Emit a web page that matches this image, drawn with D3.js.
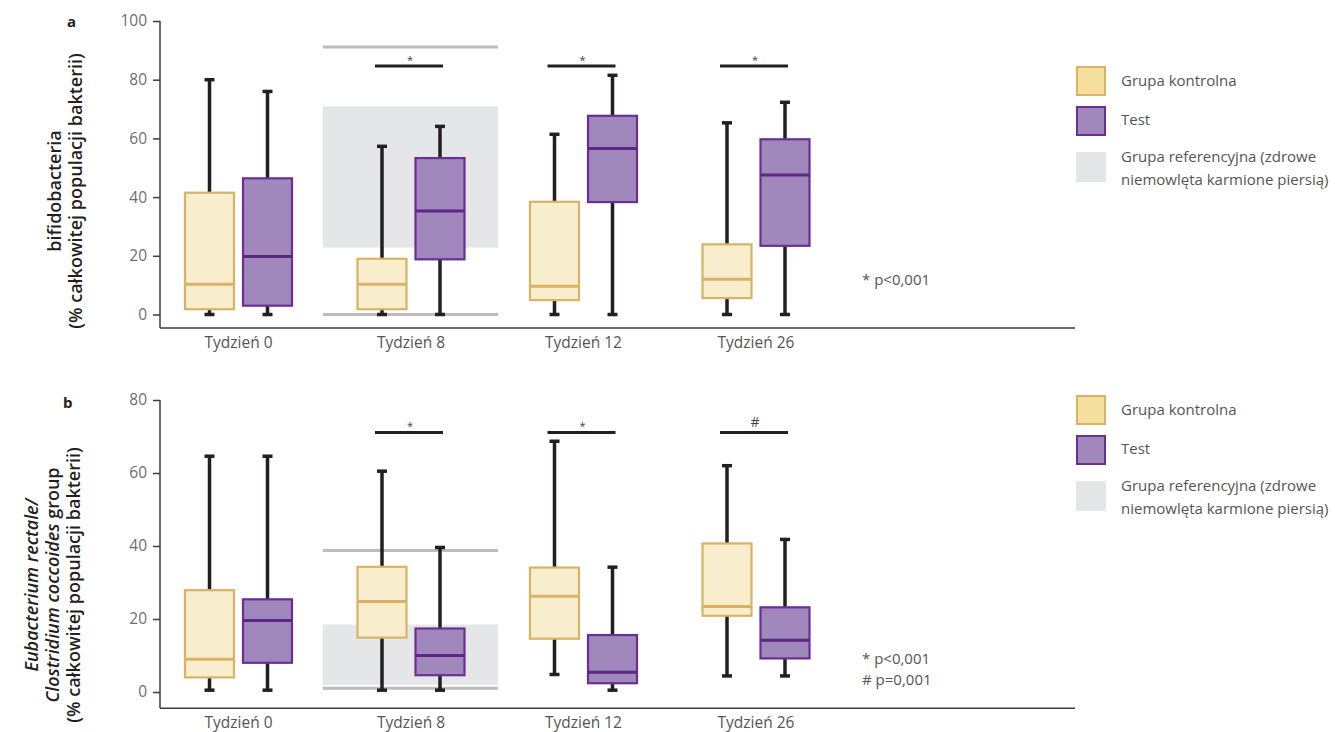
<!DOCTYPE html>
<html><head><meta charset="utf-8">
<script src="https://cdn.jsdelivr.net/npm/d3@7"></script>
<style>body{margin:0;background:#fff}svg{display:block}text{font-family:"Open Sans",sans-serif}</style>
</head><body><svg id="c" width="1335" height="732"></svg>
<script>
const categories = ["Tydzień 0","Tydzień 8","Tydzień 12","Tydzień 26"];
const groups = ["Grupa kontrolna","Test"];
// [min, q1, median, q3, max]
const controlA = [[0,1.8,10.3,41.5,80],[0,1.8,10.3,19.0,57.3],[0,4.9,9.6,38.4,61.4],[0,5.6,12.0,23.9,65.3]];
const testA    = [[0,3.0,19.8,46.4,76],[0,18.8,35.3,53.3,64.1],[0,38.3,56.6,67.7,81.5],[0,23.4,47.5,59.7,72.3]];
const controlB = [[0.5,4.0,9.0,27.9,64.6],[0.5,14.9,24.8,34.3,60.5],[4.8,14.6,26.2,34.1,68.7],[4.4,20.9,23.4,40.7,62.0]];
const testB    = [[0.5,8.0,19.6,25.4,64.6],[0.5,4.6,10.0,17.4,39.6],[0.5,2.4,5.4,15.6,34.2],[4.4,9.2,14.2,23.2,41.8]];
// reference group (Tydzień 8): [iqrLow, iqrHigh, rangeLow, rangeHigh]
const refA = [22.8, 70.9, 0, 91.1];
const refB = [1.9, 18.5, 1.0, 38.8];
const sigCatsA = ["Tydzień 8","Tydzień 12","Tydzień 26"], sigLabelsA = ["*","*","*"], sigValA = 84.7;
const sigCatsB = ["Tydzień 8","Tydzień 12","Tydzień 26"], sigLabelsB = ["*","*","#"], sigValB = 71.1;
const ticksA = [0,20,40,60,80,100], ticksB = [0,20,40,60,80];
const legendLabels = ["Grupa kontrolna","Test","Grupa referencyjna (zdrowe","niemowlęta karmione piersią)"];

const C = {cFill:"#f8edcd", cStroke:"#d9b265", cLeg:"#f5df9f", tFill:"#a087bc", tStroke:"#6b2f94", tMed:"#5d2586",
           ref:"#e5e6e8", refLine:"#bcbcbf", whisk:"#231f20", axis:"#3d3d3f", tick:"#6d6e71"};
const svg = d3.select("#c");
const x = d3.scalePoint().domain(categories).range([238.5, 756]);
const off = 29, bw = 49, cap = 5;

function panel(cfg){
  const y = d3.scaleLinear().domain([0, cfg.ymax]).range([cfg.y0, cfg.ytop]);
  const g = svg.append("g");
  // reference
  const rx0 = x("Tydzień 8") - 88, rx1 = x("Tydzień 8") + 87;
  g.append("rect").attr("x",rx0).attr("width",rx1-rx0).attr("y",y(cfg.ref[1])).attr("height",y(cfg.ref[0])-y(cfg.ref[1])).attr("fill",C.ref);
  [cfg.ref[2], cfg.ref[3]].forEach(v=>g.append("line").attr("x1",rx0).attr("x2",rx1).attr("y1",y(v)).attr("y2",y(v)).attr("stroke",C.refLine).attr("stroke-width",3));
  // axes
  const ya = d3.axisLeft(y).tickValues(cfg.ticks).tickSize(7).tickPadding(6);
  const ag = g.append("g").attr("transform",`translate(160,0)`).call(ya);
  ag.select(".domain").remove();
  ag.selectAll(".tick line").attr("stroke",C.axis).attr("stroke-width",1.5);
  ag.selectAll(".tick text").attr("fill",C.tick).style("font-size","15.5px").style("font-family","'Open Sans',sans-serif");
  g.append("line").attr("x1",160).attr("x2",160).attr("y1",y(cfg.ymax)).attr("y2",cfg.xAxisY).attr("stroke",C.axis).attr("stroke-width",1.5);
  g.append("line").attr("x1",160).attr("x2",1075).attr("y1",cfg.xAxisY).attr("y2",cfg.xAxisY).attr("stroke",C.axis).attr("stroke-width",1.5);
  g.selectAll(".cat").data(categories).enter().append("text").attr("x",d=>x(d)).attr("y",cfg.xAxisY+20)
    .attr("text-anchor","middle").attr("fill","#555").style("font-size","15.5px").text(d=>d);
  // boxes
  const series = [{d:cfg.control, o:-off, fill:C.cFill, stroke:C.cStroke, med:C.cStroke},
                  {d:cfg.test, o:off, fill:C.tFill, stroke:C.tStroke, med:C.tMed}];
  series.forEach(s=>{
    const bg = g.selectAll(null).data(s.d.map((v,i)=>({v, c:categories[i]}))).enter().append("g");
    bg.append("line").attr("x1",d=>x(d.c)+s.o).attr("x2",d=>x(d.c)+s.o).attr("y1",d=>y(d.v[0])).attr("y2",d=>y(d.v[4]))
      .attr("stroke",C.whisk).attr("stroke-width",3.5);
    [0,4].forEach(k=>bg.append("line").attr("x1",d=>x(d.c)+s.o-cap).attr("x2",d=>x(d.c)+s.o+cap).attr("y1",d=>y(d.v[k])).attr("y2",d=>y(d.v[k]))
      .attr("stroke",C.whisk).attr("stroke-width",3.5));
    bg.append("rect").attr("x",d=>x(d.c)+s.o-bw/2).attr("width",bw).attr("y",d=>y(d.v[3])).attr("height",d=>y(d.v[1])-y(d.v[3]))
      .attr("fill",s.fill).attr("stroke",s.stroke).attr("stroke-width",2.2);
    bg.append("line").attr("x1",d=>x(d.c)+s.o-bw/2).attr("x2",d=>x(d.c)+s.o+bw/2).attr("y1",d=>y(d.v[2])).attr("y2",d=>y(d.v[2]))
      .attr("stroke",s.med).attr("stroke-width",3);
  });
  // significance
  cfg.sigCats.forEach((c,i)=>{
    g.append("line").attr("x1",x(c)-36).attr("x2",x(c)+32).attr("y1",y(cfg.sigVal)).attr("y2",y(cfg.sigVal)).attr("stroke",C.whisk).attr("stroke-width",3);
    const lab = cfg.sigLabels[i];
    g.append("text").attr("x",x(c)-1).attr("y",y(cfg.sigVal)-(lab==="#"?5:2)).attr("text-anchor","middle").attr("fill","#444")
      .style("font-size",lab==="#"?"14px":"11px").text(lab);
  });
  // panel letter
  g.append("text").attr("x",cfg.letterX).attr("y",cfg.letterY).attr("fill","#231f20").style("font-size","15px").style("font-weight","bold").text(cfg.letter);
  // y label
  const yl = g.append("text").attr("transform",`translate(0,${cfg.labelY}) rotate(-90)`).attr("text-anchor","middle").attr("fill","#231f20")
    .style("font-size","18px").style("font-weight","600");
  cfg.labelLines.forEach((ln,i)=>{
    const t = yl.append("tspan").attr("x",0).attr("y",cfg.labelX0 + i*21);
    ln.forEach(p=>t.append("tspan").style("font-style",p.i?"italic":"normal").text(p.t));
  });
  // legend
  const L = cfg.legY;
  g.append("rect").attr("x",1077).attr("y",L).attr("width",28).attr("height",28).attr("fill",C.cLeg).attr("stroke",C.cStroke).attr("stroke-width",2);
  g.append("rect").attr("x",1077).attr("y",L+40).attr("width",28).attr("height",28).attr("fill",C.tFill).attr("stroke",C.tStroke).attr("stroke-width",2);
  g.append("rect").attr("x",1076).attr("y",L+85).attr("width",30).attr("height",30).attr("fill",C.ref);
  const lt = [[legendLabels[0],L+19],[legendLabels[1],L+58],[legendLabels[2],L+95],[legendLabels[3],L+118]];
  lt.forEach(([t,yy])=>g.append("text").attr("x",1121).attr("y",yy).attr("fill","#555").style("font-size","15px").text(t));
  // notes
  cfg.notes.forEach((n,i)=>g.append("text").attr("x",862).attr("y",cfg.noteY+i*21).attr("fill","#555").style("font-size","15px").text(n));
}

panel({ymax:100, y0:314.5, ytop:21, xAxisY:328, ticks:ticksA, control:controlA, test:testA, ref:refA,
  sigCats:sigCatsA, sigLabels:sigLabelsA, sigVal:sigValA, letter:"a", letterX:67, letterY:27,
  labelY:191, labelX0:61, labelLines:[[{t:"bifidobacteria"}],[{t:"(% całkowitej populacji bakterii)"}]],
  legY:67, notes:["* p<0,001"], noteY:285});
panel({ymax:80, y0:692, ytop:400, xAxisY:708.3, ticks:ticksB, control:controlB, test:testB, ref:refB,
  sigCats:sigCatsB, sigLabels:sigLabelsB, sigVal:sigValB, letter:"b", letterX:63, letterY:408,
  labelY:585, labelX0:38, labelLines:[[{t:"Eubacterium rectale/",i:true}],[{t:"Clostridium coccoides",i:true},{t:" group"}],[{t:"(% całkowitej populacji bakterii)"}]],
  legY:396, notes:["* p<0,001","# p=0,001"], noteY:664});
</script></body></html>
